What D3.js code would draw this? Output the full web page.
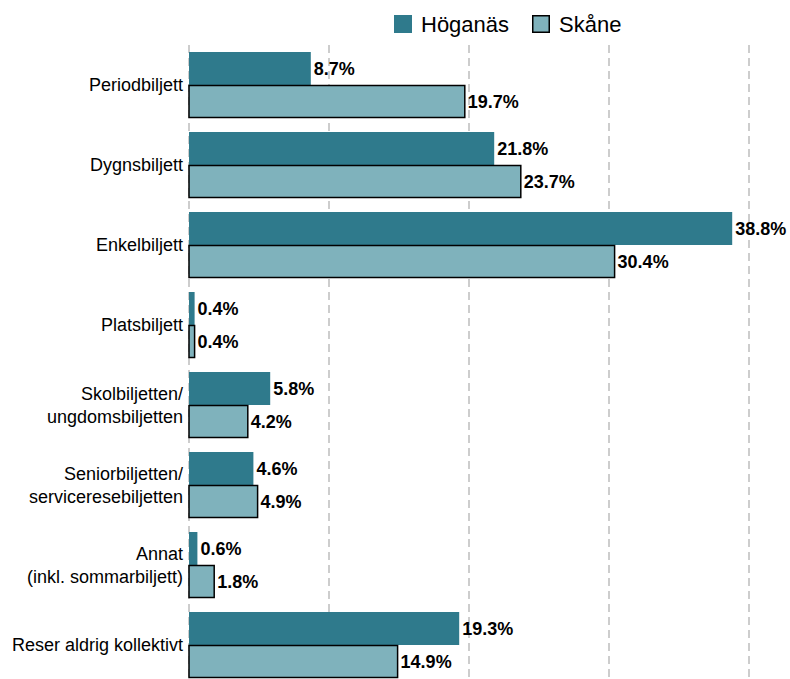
<!DOCTYPE html>
<html>
<head>
<meta charset="utf-8">
<script src="https://cdn.jsdelivr.net/npm/d3@7"></script>
<style>
  body { margin: 0; background: #fff; }
  svg { font-family: "Liberation Sans", Arial, sans-serif; }
</style>
</head>
<body>
<div id="chart"></div>
<script>
const categories = [
  ['Periodbiljett'],
  ['Dygnsbiljett'],
  ['Enkelbiljett'],
  ['Platsbiljett'],
  ['Skolbiljetten/', 'ungdomsbiljetten'],
  ['Seniorbiljetten/', 'serviceresebiljetten'],
  ['Annat', '(inkl. sommarbiljett)'],
  ['Reser aldrig kollektivt']
];
const hoganas = [8.7, 21.8, 38.8, 0.4, 5.8, 4.6, 0.6, 19.3];
const skane = [19.7, 23.7, 30.4, 0.4, 4.2, 4.9, 1.8, 14.9];
const seriesNames = ['Höganäs', 'Skåne'];
const gridTicks = [0, 10, 20, 30, 40];

const width = 790;
const height = 679;
const margin = {top: 45, left: 189, right: 0};
const colors = ['#2f7a8c', '#7fb2bc'];

const svg = d3.select('#chart')
  .append('svg')
  .attr('width', width)
  .attr('height', height);

const x = d3.scaleLinear().domain([0, 43]).range([margin.left, margin.left + 602]);
const y = d3.scaleBand()
  .domain(categories.map((d, i) => i))
  .range([margin.top, margin.top + 80 * categories.length])
  .paddingInner(14 / 80)
  .paddingOuter(7 / 80);
const ySub = d3.scaleBand().domain([0, 1]).range([0, y.bandwidth()]);

// dashed grid lines
svg.append('g')
  .selectAll('line')
  .data(gridTicks)
  .enter()
  .append('line')
  .attr('x1', d => x(d))
  .attr('x2', d => x(d))
  .attr('y1', margin.top)
  .attr('y2', height)
  .attr('stroke', '#b3b3b3')
  .attr('stroke-width', 1.3)
  .attr('stroke-dasharray', '8,5');

const rows = categories.map((c, i) => ({label: c, values: [hoganas[i], skane[i]], i: i}));

const groups = svg.append('g')
  .selectAll('g')
  .data(rows)
  .enter()
  .append('g')
  .attr('transform', d => 'translate(0,' + y(d.i) + ')');

groups.selectAll('rect')
  .data(d => d.values)
  .enter()
  .append('rect')
  .attr('x', x(0))
  .attr('y', (d, k) => ySub(k) + (k === 1 ? 0.5 : 0))
  .attr('width', d => x(d) - x(0))
  .attr('height', (d, k) => ySub.bandwidth() - (k === 1 ? 1 : 0))
  .attr('fill', (d, k) => colors[k])
  .attr('stroke', (d, k) => k === 1 ? '#000' : 'none')
  .attr('stroke-width', 1.5);

groups.selectAll('text.value')
  .data(d => d.values)
  .enter()
  .append('text')
  .attr('class', 'value')
  .attr('x', d => x(d) + 3)
  .attr('y', (d, k) => ySub(k) + ySub.bandwidth() / 2)
  .attr('dy', '0.36em')
  .attr('font-size', 18)
  .attr('font-weight', 'bold')
  .attr('fill', '#000')
  .text(d => d.toFixed(1) + '%');

// category labels
groups.append('text')
  .attr('text-anchor', 'end')
  .attr('font-size', 18)
  .attr('fill', '#000')
  .attr('x', margin.left - 6)
  .attr('y', d => y.bandwidth() / 2 - (d.label.length - 1) * 11.5)
  .selectAll('tspan')
  .data(d => d.label)
  .enter()
  .append('tspan')
  .attr('x', margin.left - 6)
  .attr('dy', (d, k) => k === 0 ? '0.36em' : 23)
  .text(d => d);

// legend
const legend = svg.append('g')
  .attr('transform', 'translate(394,15)');
const legendX = [0, 138];
seriesNames.forEach((name, k) => {
  legend.append('rect')
    .attr('x', legendX[k] + (k === 1 ? 0.75 : 0))
    .attr('y', (k === 1 ? 0.75 : 0))
    .attr('width', 18 - (k === 1 ? 1.5 : 0))
    .attr('height', 18 - (k === 1 ? 1.5 : 0))
    .attr('fill', colors[k])
    .attr('stroke', k === 1 ? '#000' : 'none')
    .attr('stroke-width', 1.5);
  legend.append('text')
    .attr('x', legendX[k] + 27)
    .attr('y', 9)
    .attr('dy', '0.36em')
    .attr('font-size', 22)
    .text(name);
});
</script>
</body>
</html>
